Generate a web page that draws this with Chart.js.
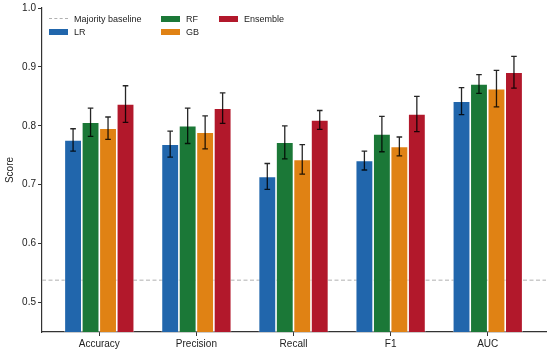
<!DOCTYPE html>
<html>
<head>
<meta charset="utf-8">
<script src="https://cdn.jsdelivr.net/npm/chart.js@4.4.1/dist/chart.umd.min.js"></script>
<style>
  html, body { margin: 0; padding: 0; background: #fff; }
  #wrap { position: relative; width: 550px; height: 352px; }
  canvas { display: block; }
  #legend { position: absolute; left: 0; top: 0; font-family: "Liberation Sans", Arial, sans-serif; font-size: 9px; color: #222; }
  .item { position: absolute; display: flex; align-items: center; white-space: nowrap; height: 11px; }
  .sw { width: 19px; height: 6px; margin-right: 6px; }
  .dash { width: 19px; height: 0; border-top: 1px dashed #b0b0b0; margin-right: 6px; }
</style>
</head>
<body>
<div id="wrap">
  <canvas id="c" width="550" height="352"></canvas>
  <div id="legend"></div>
</div>
<script>
const categories = ['Accuracy', 'Precision', 'Recall', 'F1', 'AUC'];
const seriesNames = ['LR', 'RF', 'GB', 'Ensemble'];
const LR = [0.776, 0.769, 0.714, 0.741, 0.842];
const LRerr = [0.019, 0.022, 0.022, 0.016, 0.023];
const RF = [0.806, 0.800, 0.772, 0.786, 0.871];
const RFerr = [0.024, 0.030, 0.028, 0.030, 0.016];
const GB = [0.796, 0.789, 0.743, 0.765, 0.863];
const GBerr = [0.019, 0.028, 0.025, 0.016, 0.031];
const Ens = [0.837, 0.830, 0.810, 0.820, 0.891];
const EnsErr = [0.031, 0.026, 0.016, 0.030, 0.027];
const baseline = 0.538;
const yTicks = [0.5, 0.6, 0.7, 0.8, 0.9, 1.0];
const colors = ['#2166AC', '#1B7837', '#E08214', '#B2182B'];

const values = [LR, RF, GB, Ens];
const errors = [LRerr, RFerr, GBerr, EnsErr];

const datasets = values.map((vals, k) => ({
  label: seriesNames[k],
  data: vals.map((v, i) => ({ x: i, y: v })),
  errs: errors[k],
  backgroundColor: colors[k],
  borderColor: 'rgba(255,255,255,0.75)',
  borderWidth: 0.8,
  categoryPercentage: 0.72,
  barPercentage: 1.0
}));

const baselinePlugin = {
  id: 'baseline',
  beforeDatasetsDraw(chart) {
    const { ctx, chartArea } = chart;
    const y = chart.scales.y.getPixelForValue(baseline);
    ctx.save();
    ctx.strokeStyle = '#b0b0b0';
    ctx.lineWidth = 1;
    ctx.setLineDash([4, 2.5]);
    ctx.beginPath();
    ctx.moveTo(chartArea.left, y);
    ctx.lineTo(chartArea.right, y);
    ctx.stroke();
    ctx.restore();
  }
};

const errorPlugin = {
  id: 'errbars',
  afterDatasetsDraw(chart) {
    const { ctx } = chart;
    const ys = chart.scales.y;
    ctx.save();
    ctx.strokeStyle = 'rgba(0,0,0,0.85)';
    ctx.lineWidth = 1.3;
    chart.data.datasets.forEach((ds, k) => {
      const meta = chart.getDatasetMeta(k);
      meta.data.forEach((el, i) => {
        const v = ds.data[i].y, e = ds.errs[i];
        const t = ys.getPixelForValue(v + e), b = ys.getPixelForValue(v - e);
        const x = el.x, cw = 2.8;
        ctx.beginPath();
        ctx.moveTo(x, t); ctx.lineTo(x, b);
        ctx.moveTo(x - cw, t); ctx.lineTo(x + cw, t);
        ctx.moveTo(x - cw, b); ctx.lineTo(x + cw, b);
        ctx.stroke();
      });
    });
    ctx.restore();
  }
};

const font = { family: '"Liberation Sans", Arial, sans-serif', size: 10 };

new Chart(document.getElementById('c'), {
  type: 'bar',
  data: { datasets },
  options: {
    responsive: false,
    animation: false,
    devicePixelRatio: 1,
    layout: { padding: { top: 7, right: 4, left: 0, bottom: 0 } },
    plugins: { legend: { display: false }, tooltip: { enabled: false } },
    scales: {
      x: {
        type: 'linear',
        min: -0.59,
        max: 4.6,
        offset: false,
        afterBuildTicks(scale) { scale.ticks = categories.map((c, i) => ({ value: i })); },
        afterFit(scale) { scale.height = 20; },
        ticks: {
          callback: (v) => categories[v],
          font, color: '#222', padding: 2, maxRotation: 0, autoSkip: false
        },
        grid: { offset: false, drawOnChartArea: false, drawTicks: true, tickLength: 4, color: '#333', lineWidth: 1 },
        border: { display: true, color: '#333', width: 1.2 }
      },
      y: {
        min: 0.45,
        max: 1.0,
        afterBuildTicks(scale) { scale.ticks = yTicks.map(v => ({ value: v })); },
        afterFit(scale) { scale.width = 42; },
        ticks: { callback: (v) => v.toFixed(1), font, color: '#222', padding: 2 },
        title: { display: true, text: 'Score', font, color: '#222', padding: { top: 4, bottom: 0 } },
        grid: { offset: false, drawOnChartArea: false, drawTicks: true, tickLength: 4, color: '#333', lineWidth: 1 },
        border: { display: true, color: '#333', width: 1.2 }
      }
    }
  },
  plugins: [baselinePlugin, errorPlugin]
});

// Legend (column-wise, 3 columns)
const legendItems = [
  { label: 'Majority baseline', dash: true, left: 49, top: 13 },
  { label: seriesNames[0], color: colors[0], left: 49, top: 26 },
  { label: seriesNames[1], color: colors[1], left: 161, top: 13 },
  { label: seriesNames[2], color: colors[2], left: 161, top: 26 },
  { label: seriesNames[3], color: colors[3], left: 219, top: 13 }
];
const lg = document.getElementById('legend');
legendItems.forEach(it => {
  const d = document.createElement('div');
  d.className = 'item';
  d.style.left = it.left + 'px';
  d.style.top = it.top + 'px';
  const s = document.createElement('div');
  if (it.dash) { s.className = 'dash'; } else { s.className = 'sw'; s.style.background = it.color; }
  const t = document.createElement('span');
  t.textContent = it.label;
  d.appendChild(s); d.appendChild(t);
  lg.appendChild(d);
});
</script>
</body>
</html>
